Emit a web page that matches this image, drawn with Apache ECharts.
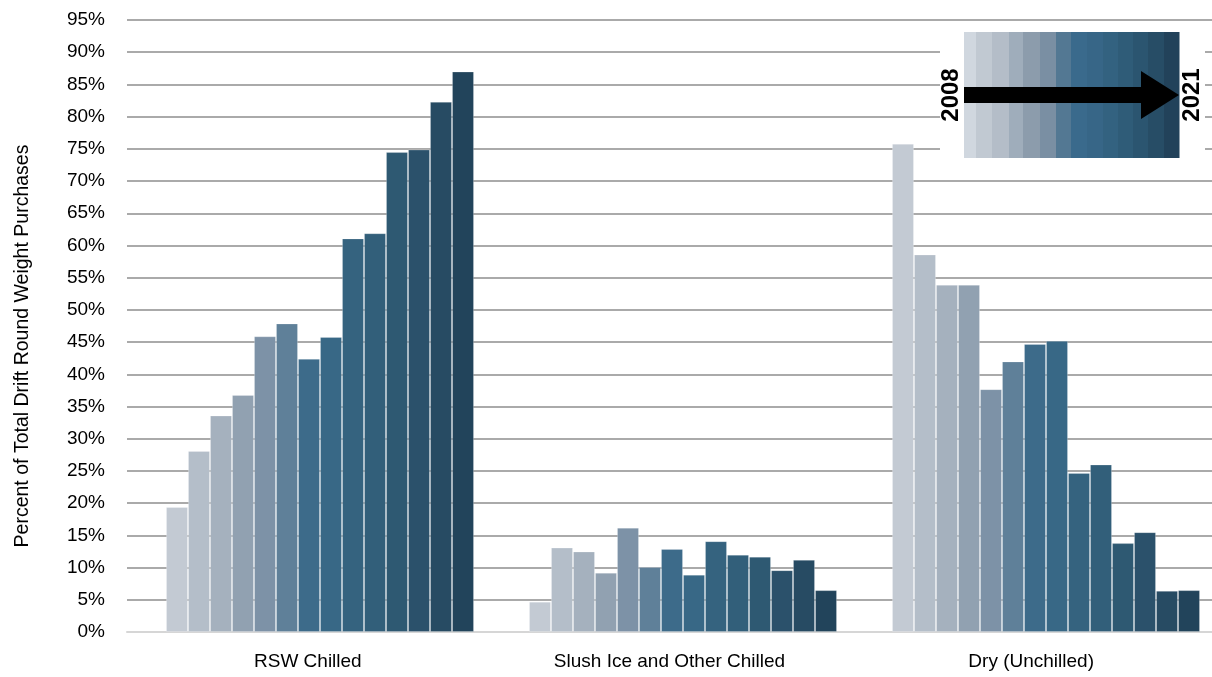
<!DOCTYPE html>
<html>
<head>
<meta charset="utf-8">
<script src="https://cdn.jsdelivr.net/npm/echarts@6/dist/echarts.min.js"></script>
<style>
html,body{margin:0;padding:0;background:#fff;}
#chart{width:1212px;height:677px;}
</style>
</head>
<body>
<div id="chart"></div>
<script>
// Categories (x axis)
const categories = ['RSW Chilled', 'Slush Ice and Other Chilled', 'Dry (Unchilled)'];
// Years (series)
const years = ['2008','2009','2010','2011','2012','2013','2014','2015','2016','2017','2018','2019','2020','2021'];
// Values per category, one entry per year (percent)
const rswChilled  = [19.4, 28.1, 33.6, 36.8, 45.9, 47.9, 42.4, 45.8, 61.1, 61.9, 74.5, 74.9, 82.3, 87.0];
const slushIce    = [4.7, 13.1, 12.5, 9.2, 16.2, 10.1, 12.9, 8.9, 14.1, 12.0, 11.7, 9.6, 11.2, 6.5];
const dryUnchilled = [75.8, 58.6, 53.9, 53.9, 37.7, 42.0, 44.7, 45.2, 24.7, 26.0, 13.8, 15.5, 6.4, 6.5];
// Y axis ticks
const yMin = 0, yMax = 95, yStep = 5;

const colors = ['#c3cad3','#b4bec9','#a5b1be','#91a1b1','#7d92a7','#5f8099','#3d6b8a',
                '#386886','#35637f','#325f7a','#2e5972','#2b516b','#274b63','#22445b'];
const stripeColors = ['#d0d7df','#c1c9d2','#b4bdc8','#9fadbb','#8c9cac','#7a8fa3','#537893',
                      '#3a6a8c','#376687','#336280','#2f5c78','#2b5570','#274d66','#22425a'];
const stripeEdges = [964,976,992,1009,1023,1040,1056,1071,1087,1103,1118,1133,1148,1164,1179];

const series = years.map((y, i) => ({
  name: y,
  type: 'bar',
  xAxisIndex: 1,
  yAxisIndex: 1,
  clip: false,
  barGap: '0%',
  barCategoryGap: '15.15%',
  data: [rswChilled[i], slushIce[i], dryUnchilled[i]],
  itemStyle: { color: colors[i], borderColor: 'rgba(255,255,255,0.22)', borderWidth: 1 },
  emphasis: { disabled: true },
  animation: false
}));

const FONT = '"Liberation Sans", Arial, sans-serif';

const graphics = [
  { type: 'rect', shape: { x: 940, y: 26, width: 265, height: 138 }, style: { fill: '#ffffff' }, z: 10 }
];
for (let i = 0; i < stripeColors.length; i++) {
  graphics.push({
    type: 'rect',
    shape: { x: stripeEdges[i], y: 32, width: stripeEdges[i+1] - stripeEdges[i] + 0.5, height: 126 },
    style: { fill: stripeColors[i] },
    z: 11
  });
}
graphics.push({
  type: 'polygon',
  shape: { points: [[964,87],[1141,87],[1141,71],[1179,95],[1141,119],[1141,103],[964,103]] },
  style: { fill: '#000000' },
  z: 12
});
graphics.push({
  type: 'text', x: 951, y: 95, rotation: Math.PI / 2, z: 13,
  style: { text: '2008', font: 'bold 24px ' + FONT, fill: '#000', align: 'center', verticalAlign: 'middle' }
});
graphics.push({
  type: 'text', x: 1192, y: 95, rotation: Math.PI / 2, z: 13,
  style: { text: '2021', font: 'bold 24px ' + FONT, fill: '#000', align: 'center', verticalAlign: 'middle' }
});
graphics.push({
  type: 'text', x: 23, y: 346, rotation: Math.PI / 2, z: 13,
  style: { text: 'Percent of Total Drift Round Weight Purchases', font: '19.5px ' + FONT, fill: '#000', align: 'center', verticalAlign: 'middle' }
});

const chart = echarts.init(document.getElementById('chart'), null, { renderer: 'canvas' });
chart.setOption({
  animation: false,
  color: colors,
  grid: [
    { left: 127, right: 0, top: 20, bottom: 45, containLabel: false },
    { left: 320, right: 166, top: 20, bottom: 45, containLabel: false }
  ],
  xAxis: [
    {
      type: 'category',
      gridIndex: 0,
      data: categories,
      axisTick: { show: false },
      axisLine: { show: true, lineStyle: { color: '#d6d6d6', width: 2 } },
      axisLabel: { color: '#000', fontSize: 19, fontFamily: FONT, margin: 20 },
      splitLine: { show: false }
    },
    {
      type: 'category',
      gridIndex: 1,
      data: categories,
      boundaryGap: false,
      show: false
    }
  ],
  yAxis: [
    {
      type: 'value',
      gridIndex: 0,
      min: yMin, max: yMax, interval: yStep,
      axisLine: { show: false },
      axisTick: { show: false },
      axisLabel: { formatter: '{value}%', color: '#000', fontSize: 19, fontFamily: FONT, margin: 22 },
      splitLine: { show: true, lineStyle: { color: '#8e8e8e', width: 1.6 } }
    },
    {
      type: 'value',
      gridIndex: 1,
      min: yMin, max: yMax, interval: yStep,
      show: false,
      splitLine: { show: false }
    }
  ],
  series: series,
  graphic: graphics
});
</script>
</body>
</html>
